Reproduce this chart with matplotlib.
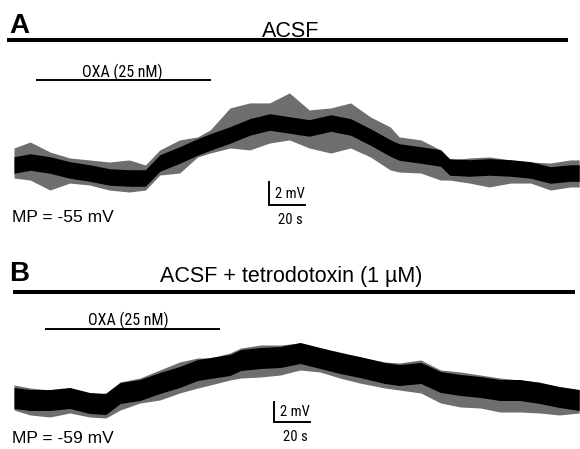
import numpy as np
import matplotlib
matplotlib.use("Agg")
import matplotlib.pyplot as plt
from matplotlib import font_manager

# ---------------- data ----------------
# Trace A (ACSF): time (s), mean depolarisation (mV, relative to MP), spike envelopes (mV)
tA = [0, 9, 20, 31, 42, 53, 64, 73, 81, 92, 102, 109, 120, 131, 142, 153, 164,
      176, 187, 198, 209, 214, 226, 237, 242, 253, 264, 276, 287, 298, 309, 314]
vA = [0.00, 0.26, 0.00, -0.43, -0.70, -1.04, -1.13, -1.13, 0.17, 0.87, 1.57, 2.00,
      2.61, 3.31, 3.74, 3.48, 3.22, 3.65, 3.31, 2.44, 1.48, 1.13, 0.87, 0.61,
      -0.17, -0.26, -0.17, -0.26, -0.43, -0.87, -0.70, -0.70]
upA = [1.48, 2.00, 1.13, 0.61, 0.44, 0.26, 0.44, 0.00, 1.31, 2.18, 2.44, 3.05,
       4.96, 5.40, 5.40, 6.27, 4.79, 4.96, 5.40, 4.18, 3.31, 2.44, 2.18, 1.31,
       0.44, 0.61, 0.70, 0.44, 0.26, 0.17, 0.44, 0.44]
loA = [-1.13, -1.31, -2.18, -1.57, -1.74, -2.18, -2.35, -2.18, -0.87, -0.70, 0.70,
       1.04, 1.48, 1.31, 1.91, 2.18, 1.48, 1.04, 1.48, 0.70, -0.43, -0.61, -0.70,
       -1.31, -1.31, -1.57, -1.91, -1.57, -1.57, -2.18, -1.91, -1.91]

# Trace B (ACSF + tetrodotoxin)
tB = [0, 9, 20, 31, 42, 51, 59, 70, 81, 92, 102, 109, 120, 126, 137, 148, 159,
      170, 181, 192, 206, 214, 226, 237, 248, 259, 270, 281, 292, 303, 314]
vB = [0.0, -0.2, -0.2, 0.0, -0.5, -0.6, 0.5, 0.8, 1.5, 2.1, 2.8, 3.0, 3.3, 3.8,
      4.0, 4.1, 4.5, 4.0, 3.5, 3.1, 2.5, 2.3, 2.5, 1.6, 1.3, 1.1, 0.8, 0.8, 0.5,
      0.1, -0.2]
upB = [1.3, 1.0, 0.8, 1.0, 0.3, 0.5, 1.6, 2.0, 2.8, 3.6, 4.0, 4.0, 4.5, 5.0,
       5.3, 5.3, 5.5, 5.0, 4.6, 4.1, 3.6, 3.5, 3.8, 2.8, 2.6, 2.3, 2.0, 1.8, 1.6,
       1.1, 0.8]
loB = [-1.2, -1.7, -1.9, -1.5, -1.9, -2.0, -1.2, -0.5, -0.2, 0.5, 1.0, 1.3, 1.8,
       2.0, 2.1, 2.3, 2.8, 2.6, 2.0, 1.5, 1.0, 0.8, 0.5, -0.5, -0.9, -1.0, -1.4,
       -1.4, -1.5, -1.7, -1.5]

titles = ["ACSF", "ACSF + tetrodotoxin (1 µM)"]
panel_letters = ["A", "B"]
drug_label = "OXA (25 nM)"
mp_labels = ["MP = -55 mV", "MP = -59 mV"]
scale_mv = 2   # mV
scale_s = 20   # s

# ---------------- fonts ----------------
names = {f.name for f in font_manager.fontManager.ttflist}
sans = "Liberation Sans" if "Liberation Sans" in names else "DejaVu Sans"
narrow = None
for cand in ["Liberation Sans Narrow", "Arial Narrow", "Roboto Condensed",
             "Open Sans Condensed", "DejaVu Sans Condensed"]:
    if cand in names:
        narrow = cand
        break
if narrow is None:
    narrow = sans
narrow_size = 11.5 if narrow != sans else 9.6
plt.rcParams["font.family"] = [sans, "DejaVu Sans"]

W, H = 580, 449
fig = plt.figure(figsize=(W / 100, H / 100), dpi=100)
fig.patch.set_facecolor("white")


def fx(x):
    return x / W


def fy(y):
    return 1 - y / H


def px_line(x0, x1, y, lw):
    fig.add_artist(plt.Line2D([fx(x0), fx(x1)], [fy(y), fy(y)], color="black",
                              lw=lw, solid_capstyle="butt", transform=fig.transFigure))


# ---------------- panel layout (pixel units) ----------------
panels = [
    dict(t=tA, v=vA, up=upA, lo=loA, ytop=85, ybot=215, y0=165, pxmv=11.5, core=0.72,
         letter_xy=(9, 33), title_xy=(291, 37), bar=(7, 568, 40),
         oxa=(36, 211, 80), oxa_txt=(122, 77), mp_xy=(12, 222),
         sb_x=269, sb_y=205),
    dict(t=tB, v=vB, up=upB, lo=loB, ytop=335, ybot=449, y0=398, pxmv=10.0, core=1.05,
         letter_xy=(9, 281), title_xy=(291, 282), bar=(13, 575, 292),
         oxa=(45, 220, 329), oxa_txt=(128, 325), mp_xy=(12, 443),
         sb_x=274, sb_y=422),
]

pxs = 1.8  # pixels per second
x_left = 14

for i, p in enumerate(panels):
    span_px = W - x_left
    ax = fig.add_axes([fx(x_left), fy(p["ybot"]), span_px / W, (p["ybot"] - p["ytop"]) / H])
    ax.set_xlim(0, span_px / pxs)
    ax.set_ylim((p["y0"] - p["ybot"]) / p["pxmv"], (p["y0"] - p["ytop"]) / p["pxmv"])
    ax.axis("off")
    t = np.array(p["t"], float)
    v = np.array(p["v"], float)
    ax.fill_between(t, p["lo"], p["up"], color="#6e6e6e", lw=0)
    ax.fill_between(t, v - p["core"], v + p["core"], color="black", lw=0)

    # scale bar
    t0 = (p["sb_x"] - x_left) / pxs
    vb = (p["y0"] - p["sb_y"]) / p["pxmv"]
    ax.plot([t0, t0, t0 + scale_s], [vb + scale_mv, vb, vb], color="black", lw=1.4,
            solid_joinstyle="miter", clip_on=False)
    ax.text(t0 + 3.2, vb + scale_mv * 0.5, f"{scale_mv} mV", family=narrow,
            fontsize=narrow_size - 1.0, ha="left", va="center", clip_on=False)
    ax.text(t0 + scale_s * 0.6, vb - 8 / p["pxmv"],
            f"{scale_s} s", family=narrow, fontsize=narrow_size - 1.0,
            ha="center", va="top", clip_on=False)

    # annotations
    lx, ly = p["letter_xy"]
    fig.text(fx(lx), fy(ly), panel_letters[i], fontsize=20, fontweight="bold",
             ha="left", va="baseline")
    tx, ty = p["title_xy"]
    fig.text(fx(tx), fy(ty), titles[i], fontsize=15.5, ha="center", va="baseline")
    px_line(p["bar"][0], p["bar"][1], p["bar"][2], 2.9)
    px_line(p["oxa"][0], p["oxa"][1], p["oxa"][2], 1.4)
    ox, oy = p["oxa_txt"]
    fig.text(fx(ox), fy(oy), drug_label, family=narrow, fontsize=narrow_size,
             ha="center", va="baseline")
    mx, my = p["mp_xy"]
    fig.text(fx(mx), fy(my), mp_labels[i], fontsize=12.5, ha="left", va="baseline")

fig.savefig("out.png", dpi=100, facecolor="white")
